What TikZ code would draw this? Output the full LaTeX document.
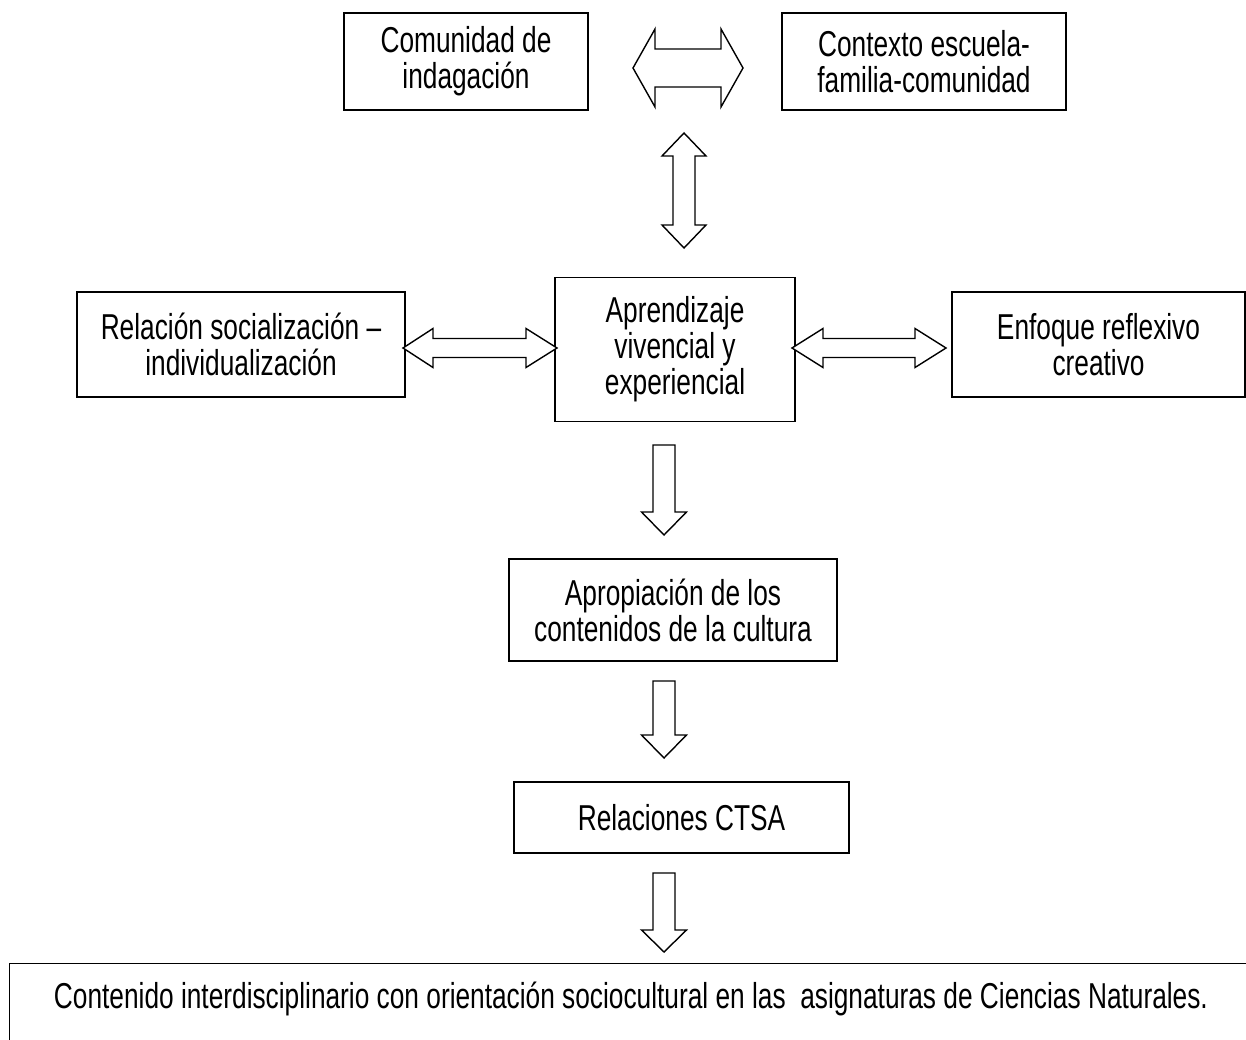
\documentclass[tikz,border=0pt]{standalone}
\usepackage{fontspec}
\setmainfont[FakeStretch=0.73]{Liberation Sans}
\begin{document}
\begin{tikzpicture}[x=1pt,y=-1pt,
  box/.style={draw,line width=1.4pt,inner sep=0pt,align=center,font=\fontsize{36}{36}\selectfont},
  blk/.style={draw,line width=1.4pt,line join=miter,fill=white},
  lbl/.style={inner sep=0pt,font=\fontsize{36}{36}\selectfont}]
\useasboundingbox (0,0) rectangle (1246,1040);
\clip (0,0) rectangle (1246,1040);
\newcommand\hdbl[7]{% xl xr yc head halfshaft halfhead headright
  \draw[blk] (#1,#3) -- (#1+#4,#3-#6) -- (#1+#4,#3-#5) -- (#2-#7,#3-#5) -- (#2-#7,#3-#6) -- (#2,#3)
    -- (#2-#7,#3+#6) -- (#2-#7,#3+#5) -- (#1+#4,#3+#5) -- (#1+#4,#3+#6) -- cycle;}
\newcommand\vdbl[7]{% yt yb xc headtop halfshaft halfhead headbottom
  \draw[blk] (#3,#1) -- (#3+#6,#1+#4) -- (#3+#5,#1+#4) -- (#3+#5,#2-#7) -- (#3+#6,#2-#7) -- (#3,#2)
    -- (#3-#6,#2-#7) -- (#3-#5,#2-#7) -- (#3-#5,#1+#4) -- (#3-#6,#1+#4) -- cycle;}
\newcommand\dwn[4]{% xc top base tip
  \draw[blk] (#1-11,#2) -- (#1+11,#2) -- (#1+11,#3) -- (#1+22.5,#3) -- (#1,#4) -- (#1-22.5,#3) -- (#1-11,#3) -- cycle;}

% boxes
\node[box,minimum width=244pt,minimum height=97pt] (b1) at (466,61.5) {Comunidad de\\indagación};
\node[box,minimum width=284pt,minimum height=97pt] (b2) at (924,61.5) {Contexto escuela-\\familia-comunidad};
\node[box,minimum width=328pt,minimum height=105pt] (b3) at (241,344.5) {Relación socialización –\\individualización};
\node[box,minimum width=240pt,minimum height=144pt] (b4) at (675,349.5) {Aprendizaje\\vivencial y\\experiencial};
\node[box,minimum width=293pt,minimum height=105pt] (b5) at (1098.5,344.5) {Enfoque reflexivo\\creativo};
\node[box,minimum width=328pt,minimum height=102pt] (b6) at (673,610) {Apropiación de los\\contenidos de la cultura};
\node[box,minimum width=335pt,minimum height=71pt] (b7) at (681.5,817.5) {Relaciones CTSA};
\node[draw,line width=1.4pt,inner sep=0pt,anchor=north west,minimum width=1300pt,minimum height=200pt] (b8) at (9,963) {};
\node[lbl,anchor=base] (t8) at (631,1008) {Contenido interdisciplinario con orientación sociocultural en las~ asignaturas de Ciencias Naturales.};

% block arrows
\hdbl{633}{743}{68}{22}{19}{39}{22}
\hdbl{403}{557}{348}{30}{9.5}{19.5}{31}
\hdbl{792}{946}{348}{31}{9.5}{19.5}{31}
\vdbl{133}{248}{684}{23}{11}{22}{23}
\dwn{664}{445}{512}{535}
\dwn{664}{681}{735}{758}
\dwn{664}{873}{930}{952}
\end{tikzpicture}
\end{document}
